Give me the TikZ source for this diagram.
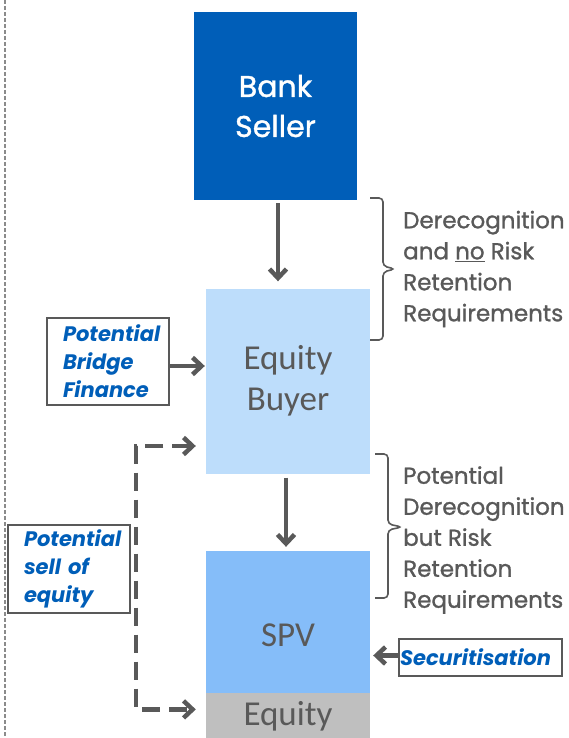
\documentclass[tikz,border=0pt]{standalone}
\usepackage{fontspec}
\setmainfont{Poppins}
\newfontfamily\calibri{Carlito}
\newfontfamily\medium[FakeBold=1.2]{Poppins}
\usepackage{tikz}
\usetikzlibrary{positioning, arrows.meta, calc}
\definecolor{sellerblue}{HTML}{005EB8}
\definecolor{buyerblue}{HTML}{BDDDFB}
\definecolor{spvblue}{HTML}{85BDF9}
\definecolor{equitygrey}{HTML}{BFBFBF}
\definecolor{darkgrey}{HTML}{595959}
\definecolor{noteblue}{HTML}{005EB8}
\tikzset{
  >={Straight Barb[length=9pt, width=17pt]},
  block/.style={inner sep=0pt, minimum width=164pt, align=center},
  note/.style={draw=darkgrey, line width=1.3pt, inner xsep=16pt, inner ysep=0pt, align=left, text=noteblue, font=\fontsize{21}{28}\selectfont\bfseries\itshape},
  remark/.style={inner sep=0pt, align=left, text=darkgrey, font=\medium\fontsize{23}{31}\selectfont},
  flow/.style={->, draw=darkgrey, line width=4.5pt},
  dashflow/.style={flow, dash pattern=on 18pt off 9pt},
  bracket/.style={draw=darkgrey, line width=1.6pt, rounded corners=4pt},
}

\begin{document}
\begin{tikzpicture}[x=1pt, y=-1pt]
  \useasboundingbox (0,0) rectangle (569,738);
  % left margin line
  \draw[darkgrey!70, line width=1.2pt, dash pattern=on 4pt off 2pt] (5,0) -- (5,738);

  \node[block, fill=sellerblue, minimum width=163pt, minimum height=188pt, text=white, font=\medium\fontsize{30}{40}\selectfont] (seller) at (275.5,106) {Bank\\Seller};
  \node[block, fill=buyerblue, minimum height=185pt, text=darkgrey, font=\calibri\fontsize{35}{41}\selectfont] (buyer) at (288,381) {Equity\\Buyer};
  \node[block, fill=spvblue, minimum height=142pt, text height=48pt, text depth=0pt, text=darkgrey, font=\calibri\fontsize{35}{41}\selectfont] (spv) at (288,622) {SPV};
  \node[block, fill=equitygrey, minimum height=46pt, below=0pt of spv, text=darkgrey, font=\calibri\fontsize{35}{41}\selectfont] (equity) {Equity};

  \node[note, minimum width=122pt, minimum height=87pt, text width=90pt] (bridge) at (108,361.5) {Potential\\Bridge\\Finance};
  \node[note, minimum width=122pt, minimum height=88pt, text width=90pt] (sell) at (69,569) {Potential\\sell of\\equity};
  \node[note, minimum width=163pt, minimum height=37pt, inner xsep=1pt, text width=161pt] (secur) at (480.5,657.5) {Securitisation};

  \coordinate (turn) at (136,446);

  \draw[flow, shorten <=3pt, shorten >=7pt] ([xshift=2.5pt]seller.south) -- ([xshift=2.5pt]seller.south |- buyer.north);
  \draw[flow, shorten <=4pt, shorten >=4pt] ([xshift=-2pt]buyer.south) -- ([xshift=-2pt]buyer.south |- spv.north);
  \draw[flow, shorten >=1pt] ([yshift=-4.5pt]bridge.east) -- ([yshift=-4.5pt]bridge.east -| buyer.west);
  \draw[flow, shorten >=3pt] ([yshift=2pt]secur.west) -- ([yshift=2pt]secur.west -| spv.east);
  \draw[dashflow, <->] ([xshift=-10pt]turn -| buyer.west) -- (turn) |- ([xshift=-10pt, yshift=7pt]equity.west);

  % braces
  \draw[bracket] (370,198) -- (383,198) -- (383,266) -- (395,269) -- (383,272) -- (383,340) -- (370,340);
  \draw[bracket] (375,454) -- (388,454) -- (388,524) -- (402,527) -- (388,530) -- (388,598) -- (375,598);

  \node[remark, anchor=west] (derecog) at (403,269) {Derecognition\\and \underline{no} Risk\\Retention\\Requirements};
  \node[remark, anchor=west] (potderecog) at (403,540) {Potential\\Derecognition\\but Risk\\Retention\\Requirements};
\end{tikzpicture}
\end{document}
